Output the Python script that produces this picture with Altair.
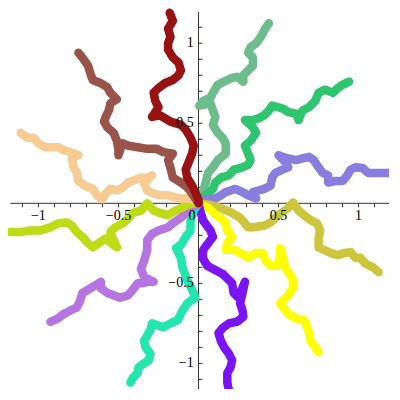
import altair as alt
import pandas as pd

# ---- curve data (data units) ----
RED_X = [-0.18, -0.16, -0.19, -0.175, -0.19, -0.19, -0.16, -0.125, -0.11, -0.125, -0.16, -0.21, -0.25, -0.28, -0.27, -0.25, -0.29, -0.24, -0.175, -0.11, -0.08, -0.05, -0.03, -0.04, -0.06, -0.08, -0.07, -0.04, -0.02, 0.0, 0.0]
RED_Y = [1.19, 1.14, 1.09, 1.04, 1.0, 0.96, 0.91, 0.88, 0.83, 0.80, 0.77, 0.75, 0.72, 0.69, 0.64, 0.60, 0.54, 0.55, 0.51, 0.49, 0.46, 0.41, 0.36, 0.31, 0.26, 0.21, 0.16, 0.11, 0.07, 0.02, 0.0]

BROWN_X = [-0.75, -0.725, -0.69, -0.675, -0.66, -0.61, -0.57, -0.55, -0.51, -0.55, -0.56, -0.58, -0.59, -0.57, -0.53, -0.51, -0.50, -0.50, -0.475, -0.44, -0.38, -0.32, -0.26, -0.22, -0.16, -0.19, -0.175, -0.16, -0.11, -0.07, -0.04, 0.0]
BROWN_Y = [0.94, 0.91, 0.86, 0.81, 0.77, 0.75, 0.725, 0.69, 0.65, 0.625, 0.58, 0.54, 0.51, 0.475, 0.44, 0.39, 0.34, 0.30, 0.375, 0.36, 0.35, 0.34, 0.34, 0.32, 0.31, 0.27, 0.22, 0.16, 0.13, 0.10, 0.06, 0.0]

PEACH_X = [-1.11, -1.07, -1.03, -1.0, -0.96, -0.91, -0.875, -0.84, -0.80, -0.75, -0.79, -0.78, -0.76, -0.75, -0.71, -0.66, -0.63, -0.60, -0.58, -0.55, -0.51, -0.47, -0.44, -0.41, -0.36, -0.32, -0.29, -0.34, -0.32, -0.28, -0.24, -0.19, -0.16, -0.11, -0.07, -0.03, 0.0]
PEACH_Y = [0.44, 0.41, 0.41, 0.375, 0.35, 0.35, 0.35, 0.33, 0.32, 0.30, 0.28, 0.225, 0.19, 0.14, 0.11, 0.09, 0.045, 0.025, 0.06, 0.09, 0.08, 0.10, 0.13, 0.14, 0.16, 0.16, 0.175, 0.125, 0.08, 0.06, 0.05, 0.05, 0.04, 0.03, 0.03, 0.025, 0.0]

LIME_X = [-1.175, -1.11, -1.05, -0.99, -0.925, -0.875, -0.82, -0.79, -0.76, -0.725, -0.69, -0.66, -0.625, -0.58, -0.55, -0.51, -0.54, -0.55, -0.52, -0.47, -0.44, -0.41, -0.36, -0.32, -0.28, -0.24, -0.19, -0.16, -0.11, -0.07, -0.03, 0.0]
LIME_Y = [-0.18, -0.18, -0.17, -0.17, -0.15, -0.125, -0.12, -0.14, -0.18, -0.21, -0.25, -0.275, -0.25, -0.22, -0.245, -0.275, -0.21, -0.18, -0.15, -0.125, -0.095, -0.06, -0.045, 0.0, -0.045, -0.06, -0.075, -0.055, -0.03, -0.01, 0.0, 0.0]

LILAC_X = [-0.925, -0.88, -0.84, -0.80, -0.76, -0.74, -0.725, -0.69, -0.64, -0.61, -0.61, -0.57, -0.53, -0.49, -0.44, -0.41, -0.38, -0.35, -0.31, -0.28, -0.34, -0.36, -0.34, -0.32, -0.32, -0.29, -0.25, -0.19, -0.16, -0.11, -0.08, -0.05, 0.0]
LILAC_Y = [-0.74, -0.72, -0.69, -0.67, -0.65, -0.61, -0.56, -0.54, -0.51, -0.49, -0.53, -0.56, -0.575, -0.59, -0.575, -0.54, -0.50, -0.50, -0.49, -0.49, -0.46, -0.41, -0.36, -0.29, -0.23, -0.19, -0.17, -0.15, -0.125, -0.09, -0.06, -0.03, 0.0]

AQUA_X = [-0.425, -0.41, -0.38, -0.375, -0.34, -0.31, -0.30, -0.33, -0.34, -0.32, -0.30, -0.29, -0.26, -0.22, -0.175, -0.13, -0.10, -0.07, -0.02, -0.04, -0.07, -0.10, -0.11, -0.14, -0.11, -0.08, -0.05, -0.05, -0.03, 0.0]
AQUA_Y = [-1.12, -1.09, -1.06, -1.025, -1.0, -0.98, -0.94, -0.90, -0.86, -0.825, -0.79, -0.75, -0.76, -0.775, -0.75, -0.73, -0.67, -0.625, -0.59, -0.54, -0.48, -0.40, -0.34, -0.28, -0.26, -0.21, -0.17, -0.11, -0.045, 0.0]

VIOLET_X = [0.19, 0.18, 0.18, 0.20, 0.21, 0.19, 0.16, 0.14, 0.125, 0.15, 0.19, 0.24, 0.28, 0.275, 0.26, 0.275, 0.29, 0.25, 0.22, 0.21, 0.18, 0.15, 0.11, 0.055, 0.025, 0.03, 0.06, 0.09, 0.075, 0.03, 0.01, 0.0]
VIOLET_Y = [-1.17, -1.12, -1.06, -1.025, -0.98, -0.94, -0.90, -0.86, -0.81, -0.78, -0.75, -0.74, -0.71, -0.67, -0.625, -0.56, -0.49, -0.59, -0.56, -0.50, -0.47, -0.44, -0.42, -0.39, -0.34, -0.29, -0.25, -0.21, -0.17, -0.11, -0.045, 0.0]

YELLOW_X = [0.0, 0.055, 0.095, 0.14, 0.17, 0.18, 0.21, 0.18, 0.17, 0.22, 0.26, 0.31, 0.36, 0.40, 0.42, 0.45, 0.49, 0.51, 0.51, 0.53, 0.54, 0.575, 0.59, 0.59, 0.56, 0.525, 0.51, 0.56, 0.61, 0.66, 0.68, 0.69, 0.70, 0.73, 0.75]
YELLOW_Y = [0.0, -0.025, -0.06, -0.095, -0.125, -0.17, -0.21, -0.25, -0.29, -0.29, -0.31, -0.34, -0.31, -0.31, -0.36, -0.39, -0.39, -0.33, -0.28, -0.34, -0.40, -0.45, -0.48, -0.53, -0.575, -0.61, -0.625, -0.69, -0.72, -0.73, -0.775, -0.81, -0.86, -0.90, -0.93]

OLIVE_X = [0.0, 0.075, 0.14, 0.20, 0.26, 0.29, 0.31, 0.34, 0.41, 0.45, 0.48, 0.525, 0.56, 0.59, 0.625, 0.66, 0.70, 0.74, 0.76, 0.75, 0.75, 0.78, 0.825, 0.87, 0.91, 0.95, 0.98, 1.01, 1.04, 1.09, 1.125]
OLIVE_Y = [0.0, -0.01, -0.03, -0.055, -0.09, -0.125, -0.15, -0.15, -0.14, -0.12, -0.09, -0.055, -0.03, 0.005, -0.045, -0.075, -0.105, -0.125, -0.17, -0.22, -0.275, -0.29, -0.31, -0.325, -0.31, -0.305, -0.34, -0.34, -0.375, -0.40, -0.43]

PERI_X = [1.19, 1.15, 1.11, 1.06, 1.025, 0.98, 0.95, 0.93, 0.90, 0.86, 0.81, 0.81, 0.775, 0.75, 0.72, 0.69, 0.65, 0.61, 0.56, 0.525, 0.50, 0.54, 0.56, 0.525, 0.48, 0.46, 0.45, 0.41, 0.375, 0.34, 0.36, 0.31, 0.275, 0.23, 0.20, 0.17, 0.14, 0.105, 0.06, 0.025, 0.0]
PERI_Y = [0.19, 0.19, 0.19, 0.19, 0.22, 0.225, 0.21, 0.175, 0.14, 0.14, 0.13, 0.175, 0.19, 0.225, 0.27, 0.29, 0.28, 0.27, 0.28, 0.29, 0.30, 0.26, 0.225, 0.21, 0.19, 0.16, 0.11, 0.09, 0.08, 0.07, 0.03, 0.05, 0.07, 0.09, 0.08, 0.07, 0.05, 0.03, 0.025, 0.02, 0.0]

GREEN_X = [0.94, 0.90, 0.87, 0.84, 0.79, 0.75, 0.73, 0.69, 0.65, 0.625, 0.61, 0.56, 0.53, 0.50, 0.46, 0.44, 0.41, 0.375, 0.34, 0.29, 0.34, 0.36, 0.325, 0.29, 0.31, 0.325, 0.31, 0.26, 0.22, 0.19, 0.14, 0.105, 0.09, 0.06, 0.03, 0.0]
GREEN_Y = [0.76, 0.74, 0.72, 0.69, 0.71, 0.69, 0.64, 0.60, 0.58, 0.52, 0.56, 0.57, 0.59, 0.60, 0.61, 0.58, 0.55, 0.53, 0.52, 0.52, 0.475, 0.44, 0.39, 0.36, 0.31, 0.27, 0.24, 0.22, 0.21, 0.175, 0.16, 0.13, 0.09, 0.06, 0.04, 0.0]

SEA_X = [0.44, 0.41, 0.39, 0.36, 0.325, 0.31, 0.34, 0.34, 0.31, 0.28, 0.28, 0.24, 0.20, 0.16, 0.12, 0.09, 0.075, 0.03, 0.005, 0.075, 0.09, 0.105, 0.09, 0.12, 0.15, 0.17, 0.17, 0.12, 0.09, 0.06, 0.045, 0.03, 0.025, 0.0]
SEA_Y = [1.125, 1.08, 1.04, 1.0, 0.975, 0.94, 0.91, 0.86, 0.83, 0.80, 0.76, 0.79, 0.78, 0.76, 0.74, 0.69, 0.66, 0.64, 0.61, 0.625, 0.58, 0.54, 0.49, 0.44, 0.41, 0.375, 0.31, 0.27, 0.225, 0.19, 0.13, 0.08, 0.04, 0.0]

CURVES = [
    ("sea", SEA_X, SEA_Y, "#6dbd8c"),
    ("green", GREEN_X, GREEN_Y, "#2fc46e"),
    ("peri", PERI_X, PERI_Y, "#8a7de0"),
    ("olive", OLIVE_X, OLIVE_Y, "#cdc63c"),
    ("yellow", YELLOW_X, YELLOW_Y, "#ffff00"),
    ("violet", VIOLET_X, VIOLET_Y, "#7b14f5"),
    ("aqua", AQUA_X, AQUA_Y, "#22e6ad"),
    ("lilac", LILAC_X, LILAC_Y, "#b674e2"),
    ("lime", LIME_X, LIME_Y, "#bddc16"),
    ("peach", PEACH_X, PEACH_Y, "#f7cb91"),
    ("brown", BROWN_X, BROWN_Y, "#9a5348"),
    ("red", RED_X, RED_Y, "#981212"),
]

# ---- axis data ----
X_TICKS = [-1.1, -1.0, -0.9, -0.8, -0.7, -0.6, -0.5, -0.4, -0.3, -0.2, -0.1, 0.1, 0.2, 0.3, 0.4, 0.5, 0.6, 0.7, 0.8, 0.9, 1.0, 1.1]
Y_TICKS = [-1.1, -1.0, -0.9, -0.8, -0.7, -0.6, -0.5, -0.4, -0.3, -0.2, -0.1, 0.1, 0.2, 0.3, 0.4, 0.5, 0.6, 0.7, 0.8, 0.9, 1.0, 1.1]
X_LABEL_VALUES = [-1.0, -0.5, 0.5, 1.0]
X_LABEL_TEXT = ["\u22121", "\u22120.5", "0.5", "1"]
Y_LABEL_VALUES = [1.0, 0.5, -0.5, -1.0]
Y_LABEL_TEXT = ["1", "0.5", "\u22120.5", "\u22121"]

rows = []
for name, cx, cy, col in CURVES:
    for i, (x, y) in enumerate(zip(cx, cy)):
        rows.append({"curve": name, "i": i, "x": x, "y": y})
curves_df = pd.DataFrame(rows)

XD = [-1.19, 1.19]
YD = [-1.16, 1.22]
xs = alt.Scale(domain=XD, nice=False, zero=False)
ys = alt.Scale(domain=YD, nice=False, zero=False)
axis_col = "#333333"
font = "Liberation Serif"

lines = alt.Chart(curves_df).mark_line(
    strokeWidth=8.5, strokeCap="round", strokeJoin="round"
).encode(
    x=alt.X("x:Q", scale=xs, axis=None),
    y=alt.Y("y:Q", scale=ys, axis=None),
    color=alt.Color("curve:N", scale=alt.Scale(domain=[c[0] for c in CURVES], range=[c[3] for c in CURVES]), legend=None),
    detail="curve:N",
    order=alt.Order("i:Q"),
)

# axis lines (horizontal and vertical)
hline_df = pd.DataFrame({"x": [-1.175], "x2": [1.19], "y": [0.0]})
vline_df = pd.DataFrame({"y": [-1.17], "y2": [1.195], "x": [0.0]})
xaxis = alt.Chart(hline_df).mark_rule(color=axis_col, strokeWidth=1).encode(
    x=alt.X("x:Q", scale=xs, axis=None), x2="x2:Q", y=alt.Y("y:Q", scale=ys, axis=None)
)
yaxis = alt.Chart(vline_df).mark_rule(color=axis_col, strokeWidth=1).encode(
    y=alt.Y("y:Q", scale=ys, axis=None), y2="y2:Q", x=alt.X("x:Q", scale=xs, axis=None)
)

xt_df = pd.DataFrame({"x": X_TICKS, "y": [0.0] * len(X_TICKS), "y2": [-0.025] * len(X_TICKS)})
yt_df = pd.DataFrame({"y": Y_TICKS, "x": [0.0] * len(Y_TICKS), "x2": [0.025] * len(Y_TICKS)})
xt = alt.Chart(xt_df).mark_rule(color=axis_col, strokeWidth=1).encode(
    x=alt.X("x:Q", scale=xs, axis=None), y=alt.Y("y:Q", scale=ys, axis=None), y2="y2:Q"
)
yt = alt.Chart(yt_df).mark_rule(color=axis_col, strokeWidth=1).encode(
    y=alt.Y("y:Q", scale=ys, axis=None), x=alt.X("x:Q", scale=xs, axis=None), x2="x2:Q"
)

xl_df = pd.DataFrame({"x": X_LABEL_VALUES, "y": [-0.08] * 4, "s": X_LABEL_TEXT})
yl_df = pd.DataFrame({"y": Y_LABEL_VALUES, "x": [-0.03] * 4, "s": Y_LABEL_TEXT})
zl_df = pd.DataFrame({"x": [-0.04], "y": [-0.08], "s": ["0"]})

xl = alt.Chart(xl_df).mark_text(font=font, fontSize=14, color="black", baseline="middle", align="center").encode(
    x=alt.X("x:Q", scale=xs, axis=None), y=alt.Y("y:Q", scale=ys, axis=None), text="s:N"
)
yl = alt.Chart(yl_df).mark_text(font=font, fontSize=14, color="black", baseline="middle", align="right").encode(
    x=alt.X("x:Q", scale=xs, axis=None), y=alt.Y("y:Q", scale=ys, axis=None), text="s:N"
)
zl = alt.Chart(zl_df).mark_text(font=font, fontSize=14, color="black", baseline="middle", align="center").encode(
    x=alt.X("x:Q", scale=xs, axis=None), y=alt.Y("y:Q", scale=ys, axis=None), text="s:N"
)

chart = alt.layer(xaxis, yaxis, xt, yt, lines, xl, yl, zl).properties(
    width=381, height=381, padding=0, autosize="none"
).configure_view(stroke=None)

chart.save("out.html", embed_options={"renderer": "svg", "actions": False})
